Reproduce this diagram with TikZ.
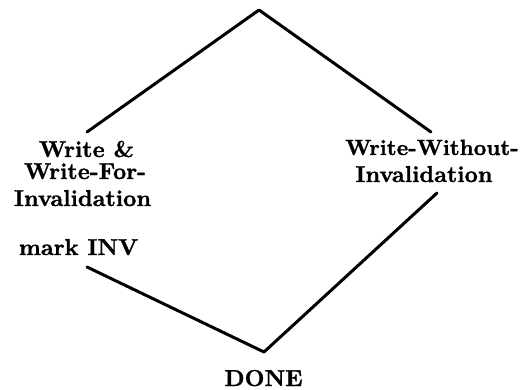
\documentclass[tikz,border=0pt]{standalone}
\usepackage{fontspec}
\newfontfamily\heavyfont{lmroman10-bold.otf}[FakeBold=1.2]
\begin{document}
\begin{tikzpicture}[x=1pt,y=-1pt,
  edge/.style={line width=3pt,line join=round,line cap=round},
  lbl/.style={inner sep=0pt,anchor=base,font=\fontsize{23}{27}\heavyfont},
  narrow/.style={font=\fontsize{22}{26}\heavyfont}]
\useasboundingbox (0,0) rectangle (524,390);
% corner points of the diamond
\coordinate (top) at (259,10);
\coordinate (lt)  at (87,132);
\coordinate (rt)  at (431,132);
\coordinate (lb)  at (87,267);
\coordinate (rb)  at (437,193);
\coordinate (bot) at (264,352);
% left branch label
\node[lbl] (w1) at (86.5,157) {Write \&};
\node[lbl] (w2) at (85,179) {Write-For-};
\node[lbl] (w3) at (82.5,206) {Invalidation};
\node[lbl] (mk) at (78.5,255) {mark INV};
% right branch label
\node[lbl,narrow] (r1) at (432,155) {Write-Without-};
\node[lbl] (r2) at (424,182) {Invalidation};
% end state
\node[lbl] (done) at (263.5,386) {DONE};
% connectors
\draw[edge] (lt) -- (top) -- (rt);
\draw[edge] (lb) -- (bot) -- (rb);
\end{tikzpicture}
\end{document}
